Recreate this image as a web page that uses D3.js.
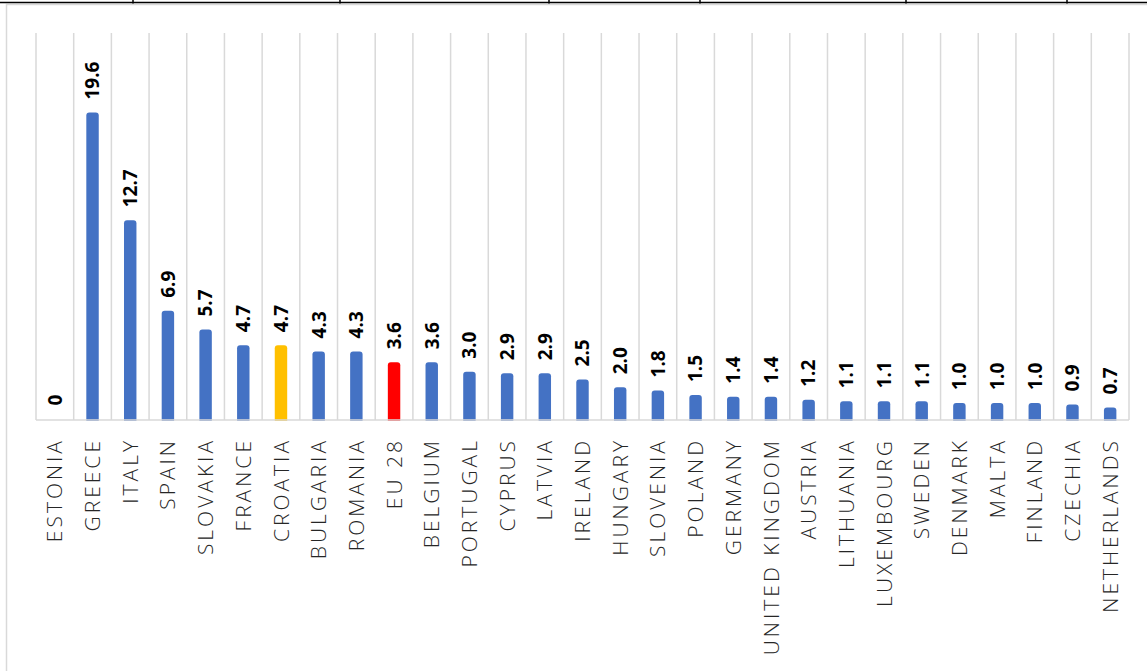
<!DOCTYPE html>
<html>
<head>
<meta charset="utf-8">
<script src="https://cdn.jsdelivr.net/npm/d3@7"></script>
<style>
  html, body { margin: 0; padding: 0; background: #fff; }
  svg { display: block; }
</style>
</head>
<body>
<svg id="chart"></svg>
<script>
// Data
const countries = ["ESTONIA", "GREECE", "ITALY", "SPAIN", "SLOVAKIA", "FRANCE", "CROATIA", "BULGARIA",
  "ROMANIA", "EU 28", "BELGIUM", "PORTUGAL", "CYPRUS", "LATVIA", "IRELAND", "HUNGARY", "SLOVENIA",
  "POLAND", "GERMANY", "UNITED KINGDOM", "AUSTRIA", "LITHUANIA", "LUXEMBOURG", "SWEDEN", "DENMARK",
  "MALTA", "FINLAND", "CZECHIA", "NETHERLANDS"];
const values = [0, 19.6, 12.7, 6.9, 5.7, 4.7, 4.7, 4.3, 4.3, 3.6, 3.6, 3.0, 2.9, 2.9, 2.5, 2.0, 1.8,
  1.5, 1.4, 1.4, 1.2, 1.1, 1.1, 1.1, 1.0, 1.0, 1.0, 0.9, 0.7];
const valueLabels = ["0", "19.6", "12.7", "6.9", "5.7", "4.7", "4.7", "4.3", "4.3", "3.6", "3.6", "3.0",
  "2.9", "2.9", "2.5", "2.0", "1.8", "1.5", "1.4", "1.4", "1.2", "1.1", "1.1", "1.1", "1.0", "1.0",
  "1.0", "0.9", "0.7"];
const highlight = { "CROATIA": "#FFC000", "EU 28": "#FF0000" };

const width = 1147, height = 671;
const plot = { left: 36, right: 1129, top: 33, zero: 418.5 };

const svg = d3.select('#chart')
    .attr('width', width)
    .attr('height', height);

// chart frame and the table border above it
svg.append('rect')
    .attr('x', 6.5).attr('y', 4.5)
    .attr('width', width + 10).attr('height', height + 10)
    .attr('fill', 'none')
    .attr('stroke', '#d9d9d9')
    .attr('stroke-width', 1.5);

svg.append('line')
    .attr('x1', 0).attr('x2', width)
    .attr('y1', 2.5).attr('y2', 2.5)
    .attr('stroke', '#000').attr('stroke-width', 1.5);

const cellEdges = [133, 340, 549, 700, 906, 1067];
svg.selectAll('.cell-edge').data(cellEdges).enter()
  .append('line')
    .attr('class', 'cell-edge')
    .attr('x1', d => d).attr('x2', d => d)
    .attr('y1', 0).attr('y2', 3.5)
    .attr('stroke', '#000').attr('stroke-width', 1.5);

// Scales
const xScale = d3.scaleBand()
    .domain(countries)
    .range([plot.left, plot.right])
    .padding(0);

const yScale = d3.scaleLinear()
    .domain([0, 24.7])
    .range([plot.zero, plot.top]);

const chart = svg.append('g');

// vertical gridlines at category boundaries
const edges = countries.map(c => xScale(c)).concat([plot.right]);
chart.selectAll('.grid').data(edges).enter()
  .append('line')
    .attr('class', 'grid')
    .attr('x1', d => d).attr('x2', d => d)
    .attr('y1', plot.top).attr('y2', plot.zero + 1.5)
    .attr('stroke', '#d9d9d9')
    .attr('stroke-width', 1.5);

// bars with rounded tops
const barW = xScale.bandwidth() * 0.33;
const r = 3;
const data = countries.map((c, i) => ({ name: c, value: values[i], label: valueLabels[i] }));

chart.selectAll('.bar').data(data.filter(d => d.value > 0)).enter()
  .append('path')
    .attr('class', 'bar')
    .attr('d', d => {
      const x0 = xScale(d.name) + (xScale.bandwidth() - barW) / 2;
      const x1 = x0 + barW;
      const yTop = yScale(d.value);
      const yBot = yScale(0) + 2.5;
      return `M${x0},${yBot} L${x0},${yTop + r} Q${x0},${yTop} ${x0 + r},${yTop}
              L${x1 - r},${yTop} Q${x1},${yTop} ${x1},${yTop + r} L${x1},${yBot} Z`;
    })
    .attr('fill', d => highlight[d.name] || '#4472C4');

// baseline
chart.append('line')
    .attr('x1', plot.left).attr('x2', plot.right)
    .attr('y1', yScale(0) + 1.5).attr('y2', yScale(0) + 1.5)
    .attr('stroke', '#d9d9d9')
    .attr('stroke-width', 1.5);

// value labels
chart.selectAll('.value').data(data).enter()
  .append('text')
    .attr('class', 'value')
    .attr('transform', d => `translate(${xScale(d.name) + xScale.bandwidth() / 2},${yScale(d.value) - 13}) rotate(-90)`)
    .attr('dy', '0.36em')
    .attr('text-anchor', 'start')
    .style('font-family', '"Open Sans", sans-serif')
    .style('font-weight', 'bold')
    .style('font-size', '19px')
    .style('fill', '#000')
    .text(d => d.label);

// category labels
chart.selectAll('.cat').data(countries).enter()
  .append('text')
    .attr('class', 'cat')
    .attr('transform', d => `translate(${xScale(d) + xScale.bandwidth() / 2},${yScale(0) + 19.5}) rotate(-90)`)
    .attr('dy', '0.36em')
    .attr('text-anchor', 'end')
    .style('font-family', '"Open Sans", sans-serif')
    .style('font-weight', 300)
    .style('font-size', '21px')
    .style('letter-spacing', '3px')
    .style('fill', '#262626')
    .text(d => d);
</script>
</body>
</html>
